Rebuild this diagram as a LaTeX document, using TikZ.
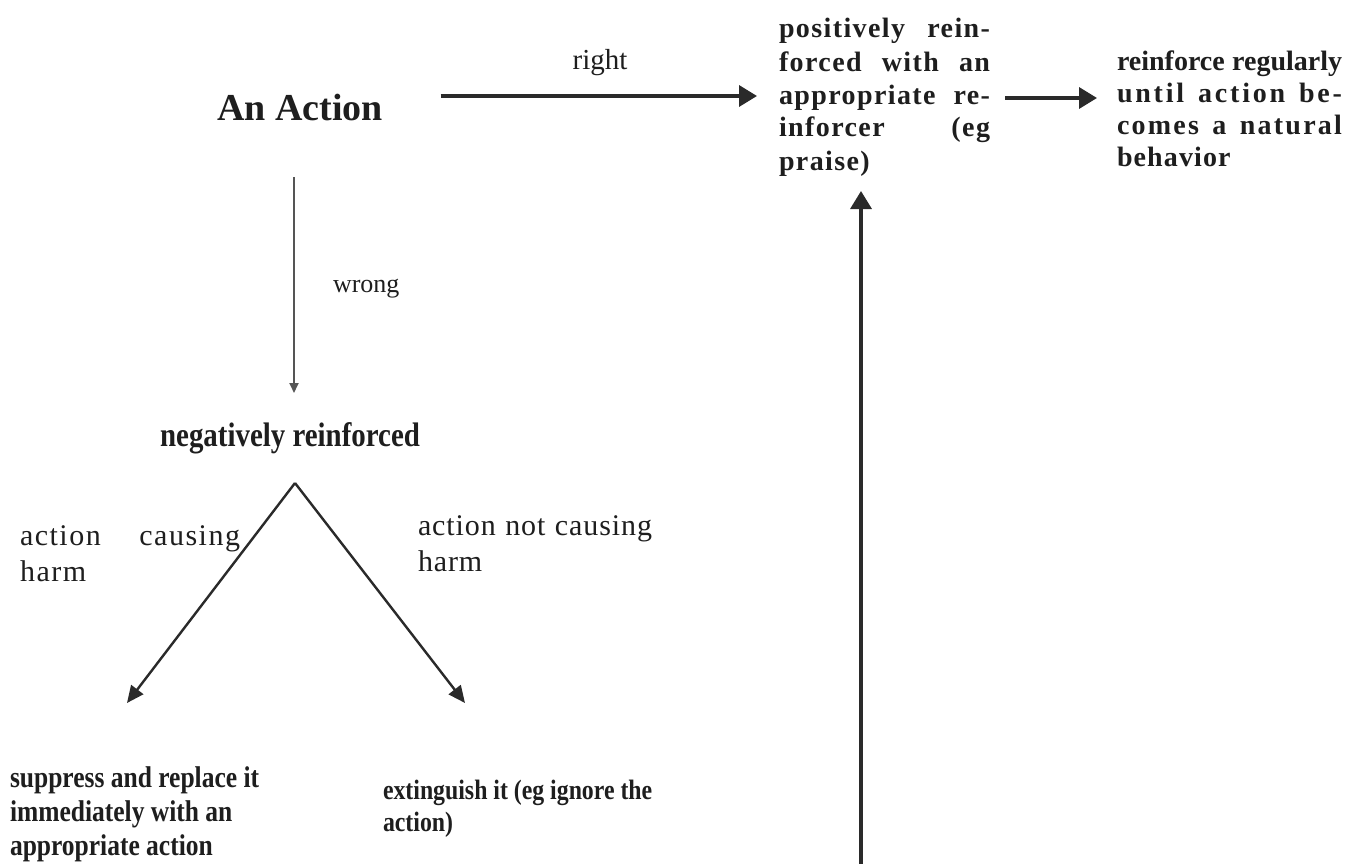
\documentclass[tikz,border=0pt]{standalone}
\usepackage{fontspec}
\setmainfont{Liberation Serif}
\newfontfamily\condfont{Liberation Serif}[FakeStretch=0.85]
\usetikzlibrary{arrows.meta}
\newcommand{\jl}[2]{\makebox[#1pt][s]{#2}}
\newcommand{\ls}[1]{\addfontfeature{LetterSpace=#1}}
\definecolor{ink}{HTML}{1E1E1E}
\definecolor{lineink}{HTML}{2A2A2A}
\definecolor{thinink}{HTML}{555555}
\begin{document}
\begin{tikzpicture}[x=1pt,y=-1pt,
  txt/.style={inner sep=0pt, outer sep=0pt, text=ink, align=left},
  bigarrow/.style={draw=lineink, line width=3.4pt, -{Triangle[length=18pt,width=21pt]}},
  diagarrow/.style={draw=lineink, line width=2.4pt, -{Triangle[length=17pt,width=15pt]}},
  thinarrow/.style={draw=thinink, line width=1.8pt, -{Triangle[length=10pt,width=9pt]}}]
\useasboundingbox[fill=white] (0,0) rectangle (1349,864);

% texts (multi-line nodes are placed by the baseline of their last line)
\node[txt, font=\bfseries\fontsize{38}{44}\selectfont, anchor=base west] (act) at (217,121) {An Action};
\node[txt, font=\fontsize{29}{34}\selectfont, anchor=base] (rightlbl) at (600,70) {right};

\node[txt, font=\bfseries\fontsize{28}{33}\selectfont, anchor=base west] (P) at (779,170)
  {\ls{5}\jl{211}{positively rein-}\\
   \ls{5}\jl{211}{forced with an}\\
   \ls{5}\jl{211}{appropriate re-}\\
   \ls{5}\jl{211}{inforcer (eg}\\
   \ls{5}praise)};

\node[txt, font=\bfseries\fontsize{28}{32}\selectfont, anchor=base west] (R) at (1117,166)
  {\jl{225}{reinforce regularly}\\
   \ls{10}\jl{225}{until action be-}\\
   \ls{8}\jl{225}{comes a natural}\\
   \ls{4}behavior};

\node[txt, font=\fontsize{26}{30}\selectfont, anchor=base west] (wronglbl) at (333,292) {wrong};

\node[txt, font=\condfont\bfseries\fontsize{34}{40}\selectfont, anchor=base] (neg) at (290,446) {negatively reinforced};

\node[txt, font=\fontsize{30}{36}\selectfont, anchor=base west] (harmL) at (20,581)
  {\ls{5}\jl{220}{action causing}\\ \ls{5}harm};
\node[txt, font=\fontsize{30}{36}\selectfont, anchor=base west] (harmR) at (418,571)
  {\ls{3}\jl{234}{action not causing}\\ \ls{3}harm};

\node[txt, font=\condfont\bfseries\fontsize{30}{34}\selectfont, anchor=base west] (sup) at (10,855)
  {suppress and replace it\\ immediately with an\\ appropriate action};
\node[txt, font=\condfont\bfseries\fontsize{28}{32}\selectfont, anchor=base west] (ext) at (383,831)
  {extinguish it (eg ignore the\\ action)};

% coordinates
\coordinate (apex) at (295,483);
\coordinate (tipL) at (127,703);
\coordinate (tipR) at (465,703);
\coordinate (bot) at (861,880);

% connectors
\draw[bigarrow] ([xshift=58pt]act.east |- 0,96) -- ([xshift=-22pt]P.west |- 0,96);
\draw[bigarrow] ([xshift=15pt]P.east |- 0,98) -- ([xshift=-20pt]R.west |- 0,98);
\draw[bigarrow] (bot) -- (bot |- 0,191);
\draw[thinarrow] (act.south -| 294,0) ++(0,56) -- (294,393);
\draw[diagarrow] (apex) -- (tipL);
\draw[diagarrow] (apex) -- (tipR);
\end{tikzpicture}
\end{document}
